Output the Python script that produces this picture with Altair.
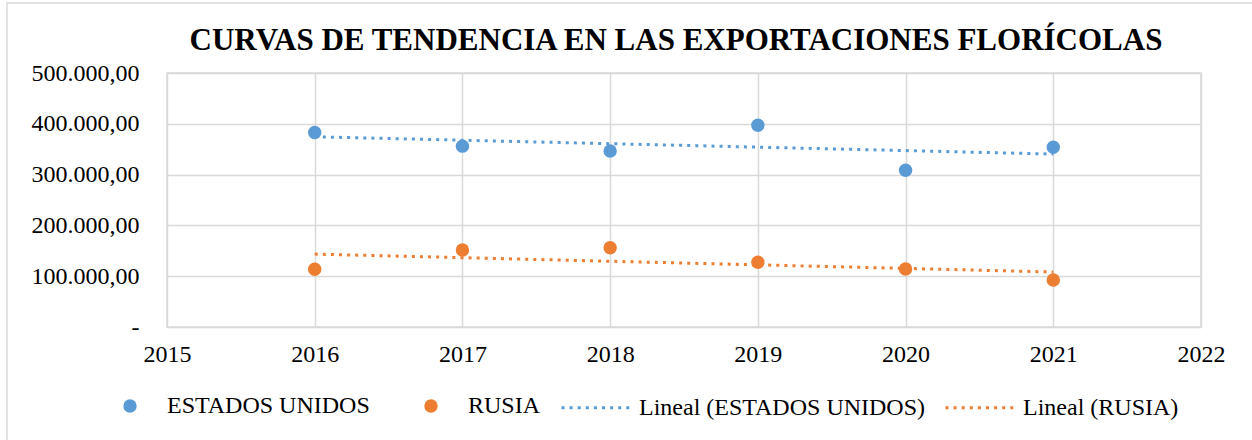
import altair as alt
import pandas as pd

years = [2016, 2017, 2018, 2019, 2020, 2021]
usa = [383000, 356000, 346500, 397000, 308500, 353700]
rusia = [113600, 151600, 156100, 127300, 114200, 92500]
series_names = ["ESTADOS UNIDOS", "RUSIA"]
trend_names = ["Lineal (ESTADOS UNIDOS)", "Lineal (RUSIA)"]
colors = ["#5B9BD5", "#ED7D31"]
x_ticks = [2015, 2016, 2017, 2018, 2019, 2020, 2021, 2022]
y_ticks = [0, 100000, 200000, 300000, 400000, 500000]

rows = []
for name, vals in zip(series_names, [usa, rusia]):
    for y, v in zip(years, vals):
        rows.append({"year": y, "value": v, "series": name})
df = pd.DataFrame(rows)

FONT = "Liberation Serif"
GRID = "#d9d9d9"
FS = 24

x_enc = alt.X("year:Q", scale=alt.Scale(domain=[2015, 2022], nice=False, zero=False),
              axis=alt.Axis(values=x_ticks, format="d", title=None, labelPadding=15, labelFlush=False))
y_enc = alt.Y("value:Q", scale=alt.Scale(domain=[0, 500000], nice=False),
              axis=alt.Axis(values=y_ticks, title=None, labelPadding=28,
                            labelExpr="datum.value == 0 ? '-\u00a0\u00a0' : replace(replace(replace(format(datum.value, ',.2f'), ',', '#'), '.', ','), '#', '.')"))

base = alt.Chart(df)

trend = base.transform_regression(
    "year", "value", groupby=["series"]
).transform_calculate(
    trend="'Lineal (' + datum.series + ')'"
).mark_line(strokeDash=[3, 5.1], strokeWidth=3).encode(
    x=x_enc, y=y_enc,
    stroke=alt.Stroke("trend:N", scale=alt.Scale(domain=trend_names, range=colors),
                      legend=alt.Legend(title=None, orient="none", direction="horizontal",
                                        legendX=393, legendY=298, symbolType="stroke",
                                        symbolSize=4900, symbolDash=[3, 5.1], symbolStrokeWidth=3,
                                        labelOffset=6, columnPadding=13, padding=0)),
    detail="series:N",
)

points = base.mark_circle(size=180, opacity=1).encode(
    x=x_enc, y=y_enc,
    fill=alt.Fill("series:N", scale=alt.Scale(domain=series_names, range=colors),
                  legend=alt.Legend(title=None, orient="none", direction="horizontal",
                                    legendX=-49, legendY=321, symbolType="circle",
                                    symbolSize=180, symbolOpacity=1, symbolStrokeWidth=0,
                                    labelOffset=25, columnPadding=49, padding=0)),
)

border = alt.Chart(alt.Data(values=[{}])).mark_rect(
    fill=None, stroke=GRID, strokeWidth=1.5
).encode(x=alt.value(-160), x2=alt.value(1100), y=alt.value(-70), y2=alt.value(380))

chart = alt.layer(border, trend, points).properties(
    width=1034, height=254,
    background="white",
    autosize=alt.AutoSizeParams(type="none"),
    padding={"left": 167, "top": 73, "right": 51, "bottom": 113},
    title=alt.TitleParams(
        text="CURVAS DE TENDENCIA EN LAS EXPORTACIONES FLORÍCOLAS",
        font=FONT, fontSize=31, fontWeight="bold", color="black",
        anchor="middle", dx=-8, dy=65, offset=10,
    ),
).configure_view(
    stroke=GRID, strokeWidth=1.5
).configure_axis(
    grid=True, gridColor=GRID, gridWidth=1.5, domain=False, ticks=False,
    labelFont=FONT, labelFontSize=FS, labelColor="black"
).configure_legend(
    labelFont=FONT, labelFontSize=FS, labelColor="black", labelLimit=0
)

chart.save("out.html", embed_options={"renderer": "svg", "actions": False})
